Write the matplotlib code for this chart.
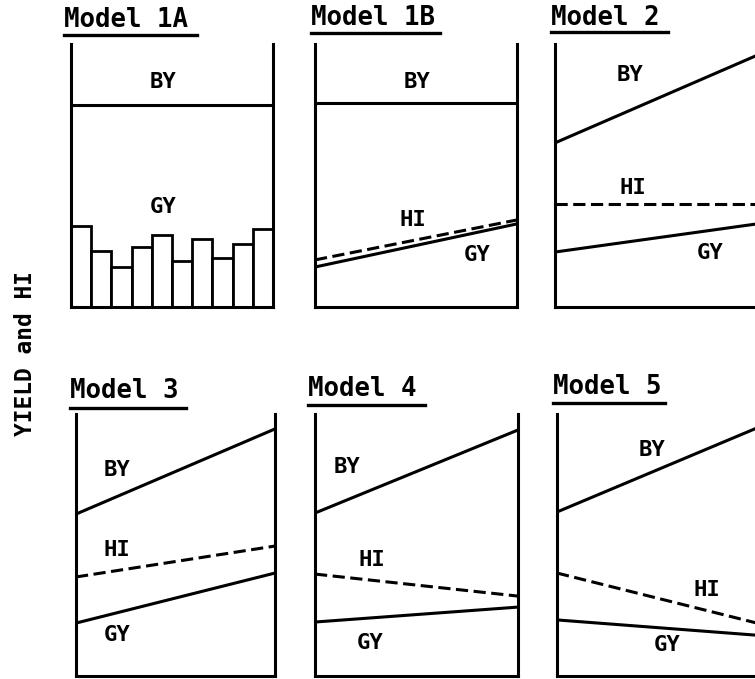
import matplotlib
matplotlib.use("Agg")
import matplotlib.pyplot as plt
from matplotlib.lines import Line2D

W, H = 755, 679
fig = plt.figure(figsize=(W / 100, H / 100), dpi=100)
FONT = "DejaVu Sans Mono"

titles = ["Model 1A", "Model 1B", "Model 2", "Model 3", "Model 4", "Model 5"]
xs = [0.0, 1.0]
# values as % of panel height (start, end)
by = {"Model 1A": [76.8, 76.8], "Model 1B": [77.6, 77.6], "Model 2": [62.4, 95.7],
      "Model 3": [61.8, 94.3], "Model 4": [62.2, 93.9], "Model 5": [62.6, 95.0]}
hi = {"Model 1B": [17.9, 33.1], "Model 2": [39.2, 39.2], "Model 3": [37.8, 49.6],
      "Model 4": [38.9, 30.5], "Model 5": [39.3, 20.0]}
gy = {"Model 1B": [15.2, 31.6], "Model 2": [20.9, 31.6], "Model 3": [20.2, 39.3],
      "Model 4": [20.6, 26.3], "Model 5": [21.4, 15.5]}
gy_bars = [30.8, 21.3, 15.2, 22.8, 27.4, 17.5, 25.9, 18.6, 24.0, 29.7]

# panel geometry in pixels: left, right, top, bottom
boxes = {"Model 1A": (71, 273, 44, 307), "Model 1B": (315, 517, 44, 307),
         "Model 2": (555, 757, 44, 307), "Model 3": (76, 275, 414, 676),
         "Model 4": (315, 518, 414, 676), "Model 5": (557, 759, 414, 676)}
# title: x left, y center, underline y, underline right
tpos = {"Model 1A": (64, 20, 35, 197), "Model 1B": (311, 18, 33, 440),
        "Model 2": (551, 18, 32, 668), "Model 3": (70, 391, 408, 186),
        "Model 4": (308, 389, 405, 425), "Model 5": (553, 387, 403, 665)}
# label positions in pixels
labels = {"Model 1A": [("BY", 163, 82), ("GY", 163, 207)],
          "Model 1B": [("BY", 417, 82), ("HI", 413, 220), ("GY", 477, 255)],
          "Model 2": [("BY", 630, 75), ("HI", 633, 188), ("GY", 710, 253)],
          "Model 3": [("BY", 117, 470), ("HI", 117, 550), ("GY", 117, 635)],
          "Model 4": [("BY", 347, 467), ("HI", 372, 560), ("GY", 370, 643)],
          "Model 5": [("BY", 652, 450), ("HI", 707, 590), ("GY", 667, 645)]}

LW = 2.2
for t in titles:
    l, r, tp, b = boxes[t]
    ax = fig.add_axes([l / W, 1 - b / H, (r - l) / W, (b - tp) / H])
    ax.set_xlim(0, 1)
    ax.set_ylim(0, 100)
    ax.set_xticks([])
    ax.set_yticks([])
    ax.spines["top"].set_visible(False)
    for s in ["left", "right", "bottom"]:
        ax.spines[s].set_linewidth(LW)
    ax.patch.set_alpha(0)
    ax.plot(xs, by[t], color="black", lw=LW, solid_capstyle="butt")
    if t == "Model 1A":
        n = len(gy_bars)
        ax.bar([i / n for i in range(n)], gy_bars, width=1 / n, align="edge",
               color="white", edgecolor="black", linewidth=2.0)
    else:
        ax.plot(xs, hi[t], color="black", lw=LW, dashes=(4, 1.8))
        ax.plot(xs, gy[t], color="black", lw=LW)
    for txt, px, py in labels[t]:
        fig.text(px / W, 1 - py / H, txt, fontsize=16, family=FONT,
                 fontweight="bold", ha="center", va="center")
    x0, yc, yu, x1 = tpos[t]
    fig.text(x0 / W, 1 - yc / H, t, fontsize=18.5, family=FONT,
             fontweight="bold", ha="left", va="center")
    fig.add_artist(Line2D([x0 / W, x1 / W], [1 - yu / H, 1 - yu / H],
                          color="black", lw=2.4))

fig.text(26 / W, 1 - 354 / H, "YIELD and HI", rotation=90, fontsize=16.5,
         family=FONT, fontweight="bold", ha="center", va="center")

fig.savefig("out.png", dpi=100)
